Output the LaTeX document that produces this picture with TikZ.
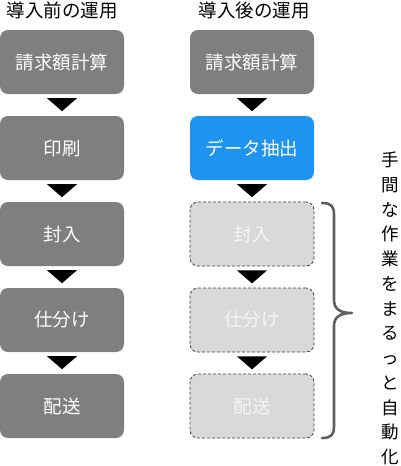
\documentclass[tikz,border=0pt]{standalone}
\usepackage{fontspec}
\setmainfont{Noto Sans CJK JP}
\usetikzlibrary{calc}
\definecolor{boxgray}{HTML}{7F7F7F}
\definecolor{boxblue}{HTML}{1F93F0}
\definecolor{boxlight}{HTML}{D9D9D9}
\definecolor{dashline}{HTML}{404040}
\definecolor{bracegray}{HTML}{5F5F5F}
\tikzset{
  stepbox/.style={rectangle, rounded corners=8pt, minimum width=124pt, minimum height=64pt,
    inner sep=0pt, text=white, font=\fontsize{18.5}{20}\selectfont},
  solidbox/.style={stepbox, fill=boxgray},
  bluebox/.style={stepbox, fill=boxblue},
  autobox/.style={stepbox, fill=boxlight, draw=dashline, line width=0.8pt, dash pattern=on 3pt off 2pt, text=white!96!black},
  title/.style={font=\fontsize{18.5}{20}\selectfont, text=black, inner sep=0pt},
  tri/.style={fill=black}
}
\newcommand{\downtri}[1]{\fill[tri] ($(#1.south)+(-15,4)$) -- ++(30,0) -- ++(-15,13) -- cycle;}
\begin{document}
\begin{tikzpicture}[x=1pt,y=-1pt]
\useasboundingbox (0,0) rectangle (400,466);
\node[title] (t1) at (62,10) {導入前の運用};
\node[title] (t2) at (254,10) {導入後の運用};
% left column
\node[solidbox] (l1) at (62,62) {請求額計算};
\node[solidbox] (l2) at (62,148) {印刷};
\node[solidbox] (l3) at (62,234) {封入};
\node[solidbox] (l4) at (62,320) {仕分け};
\node[solidbox] (l5) at (62,406) {配送};
% right column
\node[solidbox] (r1) at (252,62) {請求額計算};
\node[bluebox] (r2) at (252,148) {データ抽出};
\node[autobox] (r3) at (252,234) {封入};
\node[autobox] (r4) at (252,320) {仕分け};
\node[autobox] (r5) at (252,406) {配送};
\downtri{l1}\downtri{l2}\downtri{l3}\downtri{l4}
\downtri{r1}\downtri{r2}\downtri{r3}\downtri{r4}
% brace
\draw[bracegray, line width=2.6pt, line cap=round, line join=round]
  (322,203) .. controls (332,203) and (334,207) .. (334,215) -- (334,300)
  .. controls (334,309) and (340,313) .. (352,313)
  .. controls (340,313) and (334,317) .. (334,326) -- (334,426)
  .. controls (334,434) and (332,438) .. (322,438);
\node[align=center, inner sep=0pt, font=\fontsize{17.5}{24.75}\selectfont] (vt) at (390,308.5)
  {手\\間\\な\\作\\業\\を\\ま\\る\\っ\\と\\自\\動\\化};
\end{tikzpicture}
\end{document}
